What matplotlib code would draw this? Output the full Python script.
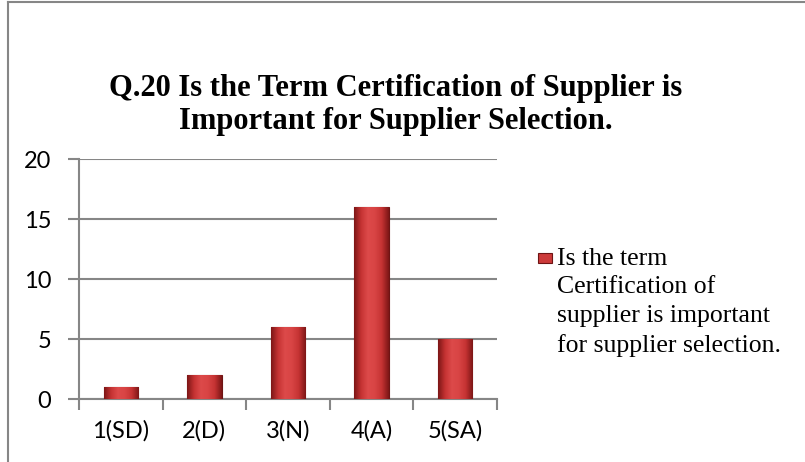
import numpy as np
import matplotlib.pyplot as plt
from matplotlib.patches import Rectangle
from matplotlib.lines import Line2D
from matplotlib.colors import LinearSegmentedColormap

categories = ["1(SD)", "2(D)", "3(N)", "4(A)", "5(SA)"]
counts = [1, 2, 6, 16, 5]
y_ticks = [0, 5, 10, 15, 20]
title = "Q.20 Is the Term Certification of Supplier is\nImportant for Supplier Selection."
legend_label = "Is the term\nCertification of\nsupplier is important\nfor supplier selection."

W, H = 805, 462
fig = plt.figure(figsize=(W / 100, H / 100), dpi=100)
ax = fig.add_axes([79 / W, 1 - 399 / H, (497 - 79) / W, (399 - 159) / H])

grey = "#868686"
bar_red = "#cc3a3a"
shade = LinearSegmentedColormap.from_list(
    "bevel", ["#7e1616", "#c53333", "#dd4a4a", "#d84444", "#c53333", "#7e1616"])

x = list(range(len(categories)))
bars = ax.bar(x, counts, width=0.41, color=bar_red, edgecolor="#6e1414", linewidth=0.8, zorder=3)

# horizontal gradient inside each bar to mimic the bevelled Excel look
grad = np.linspace(0, 1, 64).reshape(1, -1)
for b in bars:
    x0, y0 = b.get_x(), b.get_y()
    im = ax.imshow(grad, cmap=shade, aspect="auto", zorder=3.5,
                   extent=[x0, x0 + b.get_width(), y0, y0 + b.get_height()])
    im.set_clip_path(b)

ax.set_xlim(-0.5, len(categories) - 0.5)
ax.set_ylim(0, 20)
ax.set_yticks(y_ticks)
ax.set_yticklabels([str(v) for v in y_ticks])
ax.yaxis.grid(True, color=grey, linewidth=1.5, zorder=0)
ax.set_axisbelow(True)

# category boundaries carry the tick marks, labels sit in the middle
ax.set_xticks([i - 0.5 for i in range(len(categories) + 1)])
ax.set_xticklabels([])
ax.set_xticks(x, minor=True)
ax.set_xticklabels(categories, minor=True)
ax.tick_params(axis="x", which="minor", length=0, pad=15, labelsize=17)
ax.tick_params(axis="x", which="major", length=8, width=1.5, color=grey, direction="out")
ax.tick_params(axis="y", length=8, width=1.5, color=grey, pad=12, labelsize=17)
for lbl in ax.get_xticklabels(minor=True) + ax.get_yticklabels():
    lbl.set_fontfamily("Lato")

for side in ["top", "right"]:
    ax.spines[side].set_visible(False)
for side in ["left", "bottom"]:
    ax.spines[side].set_color(grey)
    ax.spines[side].set_linewidth(1.5)

fig.text(396 / W, 1 - 105 / H, title, ha="center", va="center", fontsize=22,
         fontweight="bold", family="Liberation Serif", linespacing=1.2)

# legend box drawn by hand so the marker sits on the first line
fig.add_artist(Rectangle((538 / W, 1 - 263 / H), 14 / W, 10 / H, transform=fig.transFigure,
                         facecolor=bar_red, edgecolor="#6e1414", linewidth=0.8))
fig.text(557 / W, 1 - 248 / H, legend_label, ha="left", va="top", fontsize=18.5,
         family="Liberation Serif", linespacing=1.38)

# outer chart border (top and left edges visible)
fig.add_artist(Line2D([8 / W, 1], [1 - 2 / H, 1 - 2 / H], transform=fig.transFigure,
                      color=grey, linewidth=1.5))
fig.add_artist(Line2D([8 / W, 8 / W], [0, 1 - 2 / H], transform=fig.transFigure,
                      color=grey, linewidth=1.5))

fig.savefig("out.png", dpi=100)
